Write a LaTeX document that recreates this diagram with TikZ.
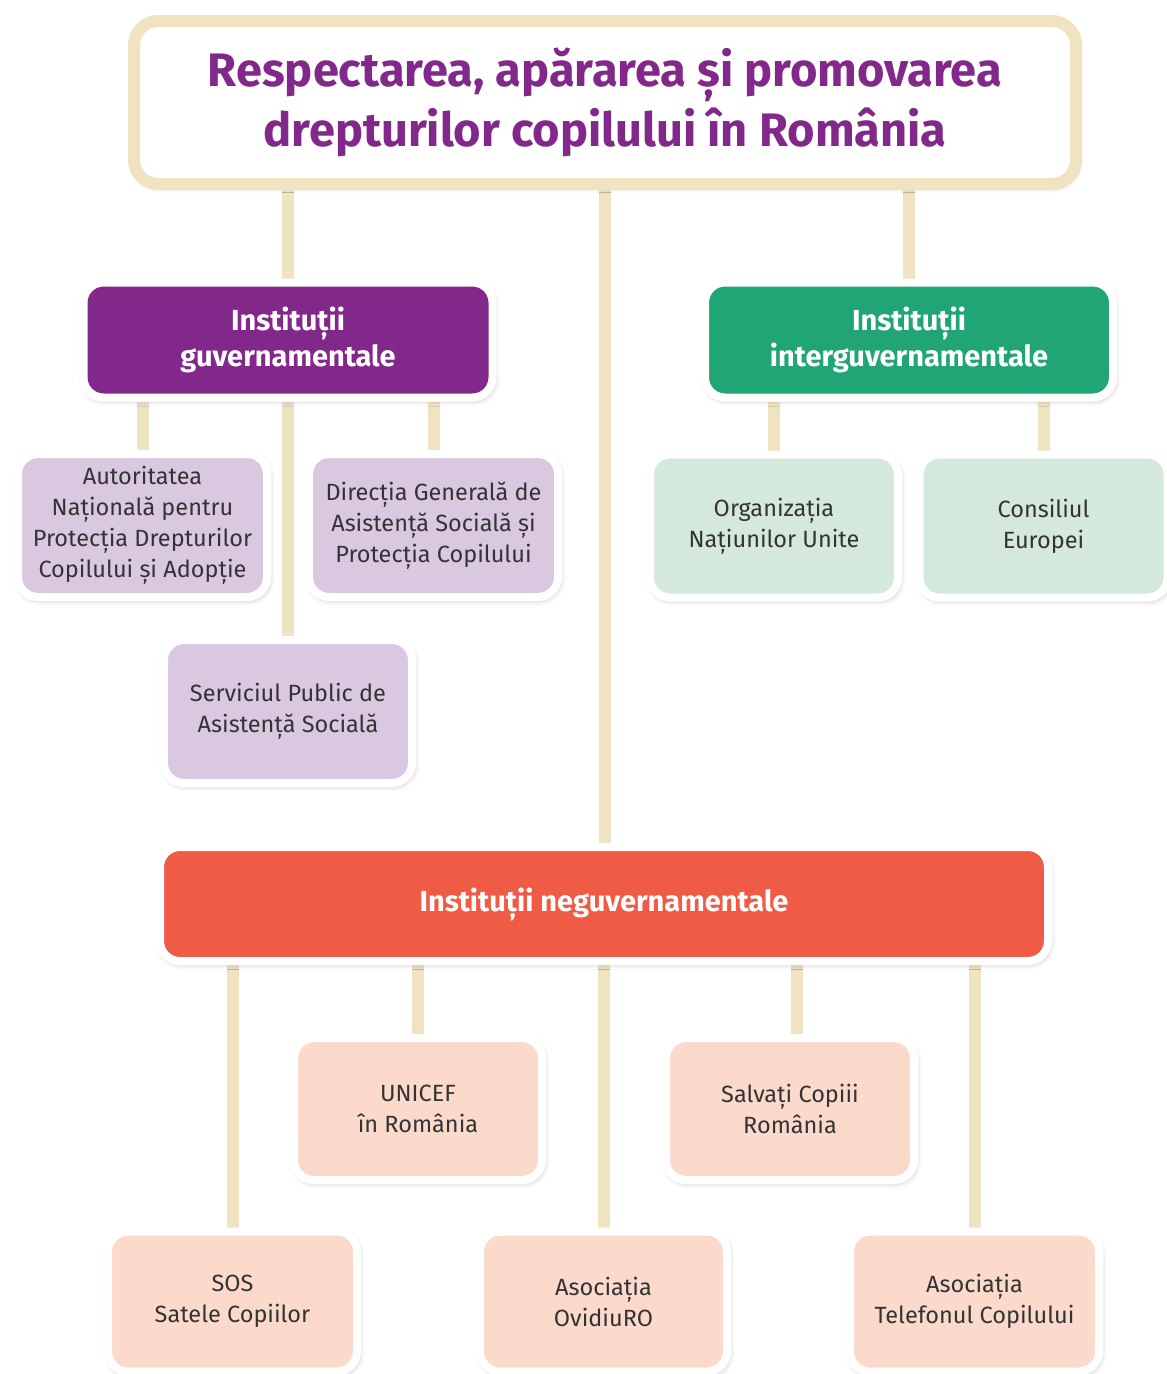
\documentclass[tikz,border=0pt]{standalone}
\usepackage{fontspec}
\setmainfont{Fira Sans}
\usetikzlibrary{positioning,backgrounds,shadows.blur}

\definecolor{linkbeige}{HTML}{EFE3C2}
\definecolor{guvpurple}{HTML}{82288A}
\definecolor{intergreen}{HTML}{22A574}
\definecolor{neguvred}{HTML}{F05B45}
\definecolor{lavender}{HTML}{D9C8E0}
\definecolor{mint}{HTML}{D4E8DC}
\definecolor{peach}{HTML}{FBDACC}
\definecolor{textgray}{HTML}{333333}

\tikzset{
  x=1pt, y=-1pt,
  box/.style={draw=white, line width=8pt, rounded corners=20pt, align=center,
    inner sep=0pt, text=textgray, font=\fontsize{23.5}{31}\selectfont,
    blur shadow={shadow xshift=1.5pt, shadow yshift=-2.5pt, shadow opacity=30,
      shadow blur radius=6pt}},
  smallbox/.style={box, minimum width=249pt, minimum height=143pt},
  headbox/.style={box, minimum height=115pt, text=white,
    font=\fontsize{29}{36}\selectfont\bfseries},
  titlebox/.style={box, draw=linkbeige, line width=12pt, fill=white,
    rounded corners=24pt, minimum width=942pt, minimum height=163pt,
    text=guvpurple, font=\fontsize{47}{60}\selectfont\bfseries},
  link/.style={draw=linkbeige, line width=12pt},
}

\begin{document}
\begin{tikzpicture}
  \clip (0,0) rectangle (1167,1374);
  \useasboundingbox (0,0) rectangle (1167,1374);

  % Title
  \node[titlebox] (title) at (605,102.5) {Respectarea, apărarea și promovarea\\drepturilor copilului în România};

  % Main groups
  \node[headbox, fill=guvpurple, minimum width=409pt] (guv) at (288,340) {Instituții\\guvernamentale};
  \node[headbox, fill=intergreen, minimum width=408pt] (interguv) at (909,340) {Instituții\\interguvernamentale};
  \node[headbox, fill=neguvred, minimum width=888pt, minimum height=114pt] (neguv) at (604,904) {Instituții neguvernamentale};

  % Governmental
  \node[smallbox, fill=lavender] (anpdca) at (142.5,525.5) {Autoritatea\\Națională pentru\\Protecția Drepturilor\\Copilului și Adopție};
  \node[smallbox, fill=lavender] (dgaspc) at (433.5,525.5) {Direcția Generală de\\Asistență Socială și\\Protecția Copilului};
  \node[smallbox, fill=lavender, minimum width=248pt] (spas) at (288,711.5) {Serviciul Public de\\Asistență Socială};

  % Intergovernmental
  \node[smallbox, fill=mint, minimum width=248pt] (onu) at (774,526) {Organizația\\Națiunilor Unite};
  \node[smallbox, fill=mint, minimum width=248pt] (ce) at (1043.5,526) {Consiliul\\Europei};

  % Non-governmental
  \node[smallbox, fill=peach, minimum width=248pt, minimum height=142pt] (unicef) at (418,1109) {UNICEF\\în România};
  \node[smallbox, fill=peach, minimum width=248pt, minimum height=142pt] (salvati) at (790,1109) {Salvați Copiii\\România};
  \node[smallbox, fill=peach, minimum height=140pt] (sos) at (232.5,1301.5) {SOS\\Satele Copiilor};
  \node[smallbox, fill=peach, minimum width=247pt, minimum height=140pt] (ovidiuro) at (603.5,1301.5) {Asociația\\OvidiuRO};
  \node[smallbox, fill=peach, minimum height=140pt] (telefon) at (974.5,1301.5) {Asociația\\Telefonul Copilului};

  % Connectors
  \begin{scope}[on background layer]
    \draw[link] (guv.north) -- (guv.north |- title.south);
    \draw[link] (interguv.north) -- (interguv.north |- title.south);
    \draw[link] (title.south) -- (title.south |- neguv.north);
    \draw[link] (anpdca.north) -- (anpdca.north |- guv.south);
    \draw[link] (dgaspc.north) -- (dgaspc.north |- guv.south);
    \draw[link] (guv.south) -- (spas.north);
    \draw[link] (onu.north) -- (onu.north |- interguv.south);
    \draw[link] (ce.north) -- (ce.north |- interguv.south);
    \draw[link] (sos.north) -- (sos.north |- neguv.south);
    \draw[link] (unicef.north) -- (unicef.north |- neguv.south);
    \draw[link] (ovidiuro.north) -- (ovidiuro.north |- neguv.south);
    \draw[link] ([xshift=7pt]salvati.north) -- ([xshift=7pt]salvati.north |- neguv.south);
    \draw[link] (telefon.north) -- (telefon.north |- neguv.south);
  \end{scope}
\end{tikzpicture}
\end{document}
